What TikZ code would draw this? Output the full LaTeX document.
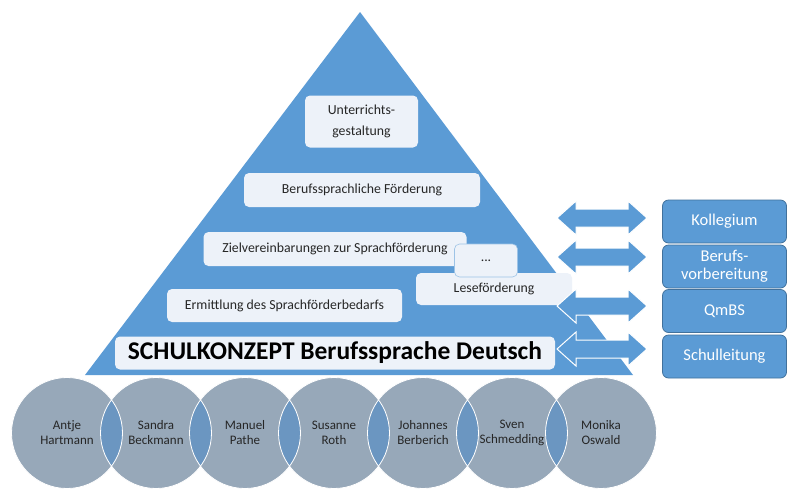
\documentclass[tikz,border=0pt]{standalone}
\usepackage{fontspec}
\setmainfont{Carlito}
\definecolor{pyr}{HTML}{5B9BD5}
\definecolor{lbox}{HTML}{EDF2F9}
\definecolor{rborder}{HTML}{41719C}
\definecolor{cfill}{HTML}{97A8B9}
\definecolor{lens}{HTML}{6B96C1}
\definecolor{ctext}{HTML}{262626}
\definecolor{dotsborder}{HTML}{9DC3E6}
\tikzset{
  lightbox/.style={fill=lbox, rounded corners=5pt, inner sep=0pt, text=ctext, align=center,
    font=\fontsize{13.8}{21}\selectfont},
  sidebox/.style={fill=pyr, draw=rborder, line width=0.8pt, rounded corners=6pt,
    minimum width=124pt, minimum height=43pt, inner sep=0pt, text=white, align=center,
    font=\fontsize{16.5}{18}\selectfont},
  dblarrow/.style={fill=pyr, draw=white, line width=1pt, line join=miter},
  person/.style={circle, fill=cfill, minimum size=111pt, inner sep=0pt},
  personname/.style={font=\fontsize{13}{15}\selectfont, text=ctext, align=center},
}
\begin{document}
\begin{tikzpicture}[x=1pt,y=-1pt]
\useasboundingbox[fill=white] (0,0) rectangle (800,491);
% pyramid
\fill[pyr] (85,375) -- (360,12) -- (633,375) -- cycle;
% light boxes
\node[lightbox, minimum width=113pt, minimum height=52pt] (unt) at (361.5,121.5) {Unterrichts-\\gestaltung};
\node[lightbox, minimum width=236pt, minimum height=34pt] (bsf) at (362,190) {Berufssprachliche Förderung};
\node[lightbox, minimum width=263pt, minimum height=34pt] (ziel) at (335,249) {Zielvereinbarungen zur Sprachförderung};
\node[lightbox, minimum width=156pt, minimum height=32pt] (lese) at (494,289) {Leseförderung};
\node[lightbox, draw=dotsborder, line width=0.6pt, minimum width=63pt, minimum height=33pt] (dots) at (486,260.5) {...};
\node[lightbox, minimum width=235pt, minimum height=33pt] (erm) at (284.5,305.5) {Ermittlung des Sprachförderbedarfs};
\node[lightbox, minimum width=440pt, minimum height=33pt, text=black,
  font=\fontsize{25.5}{27}\selectfont\bfseries] (sk) at (335,353) {SCHULKONZEPT Berufssprache Deutsch};
% double arrows
\foreach \cy in {218,257,306,349}{
  \draw[dblarrow] (557,\cy) -- (576,\cy-17) -- (576,\cy-9) -- (628,\cy-9) -- (628,\cy-17)
    -- (647,\cy) -- (628,\cy+17) -- (628,\cy+9) -- (576,\cy+9) -- (576,\cy+17) -- cycle;
}
% side boxes
\node[sidebox] (koll) at (724.5,221.5) {Kollegium};
\node[sidebox] (bv) at (724.5,266.5) {Berufs-\\vorbereitung};
\node[sidebox] (qm) at (724.5,311) {QmBS};
\node[sidebox] (sl) at (724.5,356.5) {Schulleitung};
% circles
\foreach \i/\x in {1/67,2/156,3/245,4/334,5/423,6/512,7/601}{
  \node[person] (c\i) at (\x,433) {};
}
\foreach \a/\b in {c1/c2,c2/c3,c3/c4,c4/c5,c5/c6,c6/c7}{
  \begin{scope}
    \clip (\a.center) circle[radius=55.5];
    \fill[lens] (\b.center) circle[radius=55.5];
  \end{scope}
}
\foreach \i in {1,...,7}{
  \draw[white, line width=0.8pt] (c\i.center) circle[radius=55.5];
}
\node[personname] (n1) at (c1.center) {Antje\\Hartmann};
\node[personname] (n2) at (c2.center) {Sandra\\Beckmann};
\node[personname] (n3) at (c3.center) {Manuel\\Pathe};
\node[personname] (n4) at (c4.center) {Susanne\\Roth};
\node[personname] (n5) at (c5.center) {Johannes\\Berberich};
\node[personname] (n6) at (c6.center) {Sven\\Schmedding};
\node[personname] (n7) at (c7.center) {Monika\\Oswald};
\end{tikzpicture}
\end{document}
